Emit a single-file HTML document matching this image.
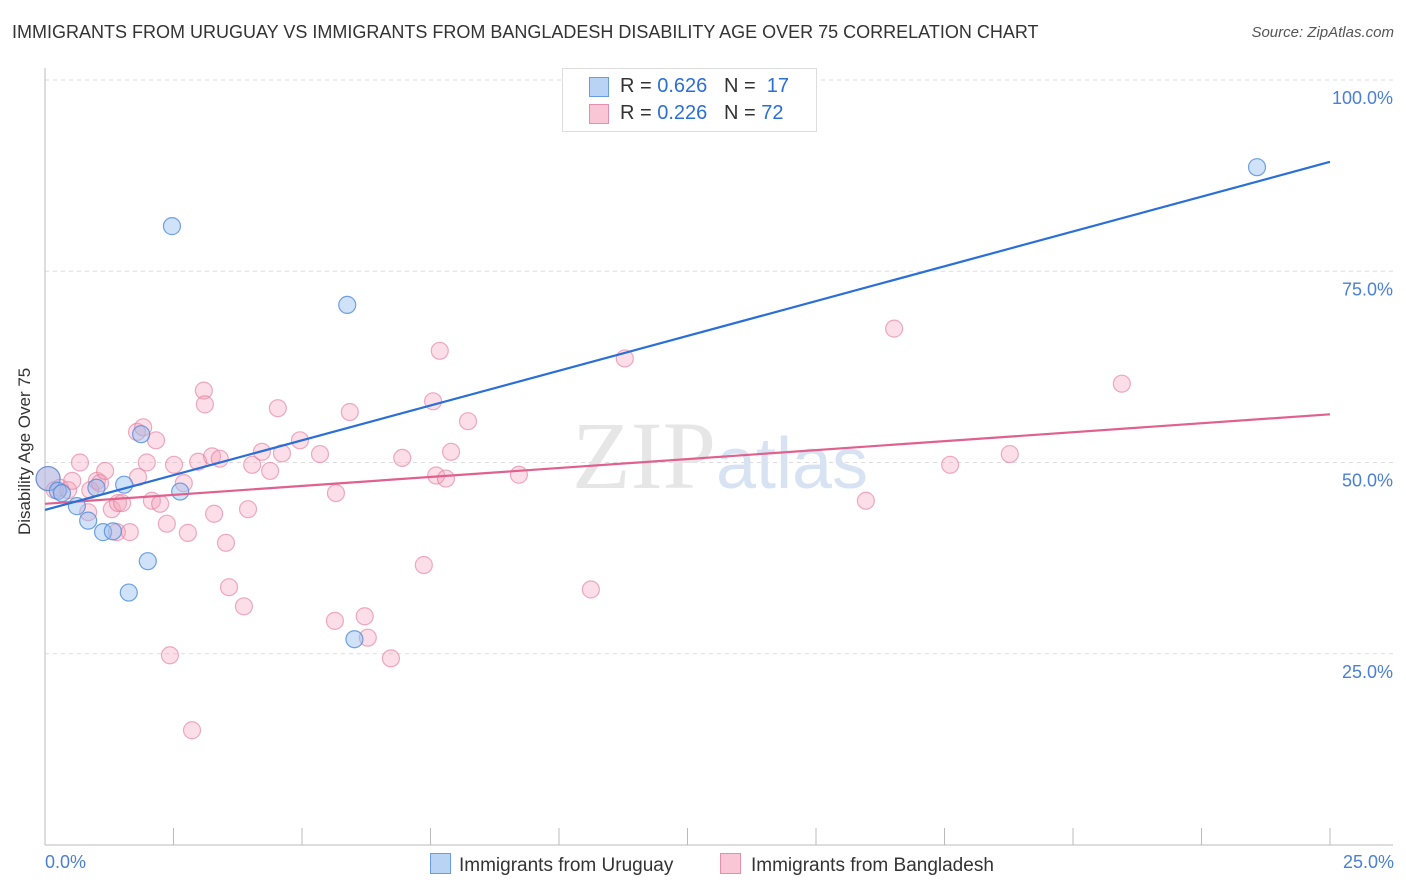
<!DOCTYPE html>
<html><head><meta charset="utf-8"><style>
body{margin:0;background:#fff;font-family:"Liberation Sans",sans-serif}
#wrap{position:relative;width:1406px;height:892px;overflow:hidden}
.t{position:absolute;white-space:nowrap}
</style></head><body>
<div id="wrap">
<div class="t" style="left:12px;top:22px;font-size:18px;color:#333">IMMIGRANTS FROM URUGUAY VS IMMIGRANTS FROM BANGLADESH DISABILITY AGE OVER 75 CORRELATION CHART</div>
<div class="t" style="right:12px;top:24px;font-size:15px;color:#555;font-style:italic">Source: ZipAtlas.com</div>
<svg id="svg" width="1406" height="892" style="position:absolute;left:0;top:0"></svg>
</div>
<script>
const uruX=[0.06,0.25,0.62,0.84,1.0,1.13,1.32,1.54,1.63,1.87,2.00,2.47,2.63,5.88,6.02,23.58,0.33];
const uruY=[47.9,46.3,44.3,42.4,46.7,40.9,41.0,47.1,33.0,53.7,37.1,80.9,46.2,70.6,26.9,88.6,46.0];
const banX=[0.06,0.19,0.29,0.45,0.53,0.68,0.84,0.88,1.01,1.07,1.17,1.30,1.42,1.50,1.40,1.65,1.79,1.91,1.81,1.98,2.08,2.16,2.24,2.37,2.51,2.43,2.70,2.78,2.86,2.98,3.09,3.11,3.25,3.29,3.40,3.52,3.58,3.87,3.95,4.03,4.22,4.38,4.53,4.61,4.96,5.35,5.66,5.64,5.93,6.22,6.28,6.73,6.95,7.37,7.55,7.61,7.68,7.80,7.90,8.23,9.22,10.62,11.28,15.97,16.52,17.61,18.77,20.95];
const banY=[47.9,46.4,46.7,46.4,47.6,50.0,43.5,46.4,47.6,47.3,48.9,43.9,44.7,44.7,40.9,40.9,54.0,54.6,48.1,50.0,45.0,52.9,44.6,42.0,49.7,24.8,47.3,40.8,15.0,50.1,59.4,57.6,50.8,43.3,50.5,39.5,33.7,31.2,43.9,49.7,51.4,48.9,57.1,51.2,52.9,51.1,46.0,29.3,56.6,29.9,27.1,24.4,50.6,36.6,58.0,48.3,64.6,47.9,51.4,55.4,48.4,33.4,63.6,45.0,67.5,49.7,51.1,60.3];
const uruTrend=[43.8,89.3];
const banTrend=[44.6,56.3];
const yTicks=[100,75,50,25];
const yTickLabels=["100.0%","75.0%","50.0%","25.0%"];

const X0=45,X1=1330,Y0=845,Y100=80;
const sx=v=>X0+(X1-X0)*v/25, sy=v=>Y0-(Y0-Y100)*v/100;
const svg=document.getElementById('svg');const NS="http://www.w3.org/2000/svg";
function mk(tag,attrs,parent){const e=document.createElementNS(NS,tag);for(const k in attrs)e.setAttribute(k,attrs[k]);(parent||svg).appendChild(e);return e;}
// grid
yTicks.forEach((v,i)=>{
 const g=mk('line',{x1:X0,x2:1393,y1:sy(v),y2:sy(v),stroke:'#ddd','stroke-dasharray':'4,4'});
 
 
 const t=mk('text',{x:1393,y:sy(v)+24,'text-anchor':'end','font-size':18,fill:'#4a7fd6'});
 t.textContent=yTickLabels[i];
 
 
});
// watermark
const wm=mk('text',{x:720,y:488,'text-anchor':'middle','font-size':96,fill:'#e6e6e6','font-family':'Liberation Serif'});


wm.innerHTML='ZIP<tspan fill="#d7e3f3" font-family="Liberation Sans" font-size="72">atlas</tspan>';
// axes
const ax=mk('line',{x1:X0,x2:1393,y1:Y0,y2:Y0,stroke:'#bbb'});


const ay=mk('line',{x1:X0,x2:X0,y1:68,y2:Y0,stroke:'#bbb'});


for(let i=0;i<=10;i++){const tk=mk('line',{x1:sx(i*2.5),x2:sx(i*2.5),y1:828,y2:Y0,stroke:'#bbb'});
 
 }
// points
function dots(xs,ys,fill,stroke,name){xs.forEach((x,i)=>{const r=(i==0&&x<0.1)?12:8.5;
 const c=mk('circle',{cx:sx(x),cy:sy(ys[i]),r:r,fill:fill,stroke:stroke,'stroke-width':1.2});
 
 });}
dots(banX,banY,'rgba(244,160,185,0.35)','rgba(228,120,155,0.6)','bangladesh-point');
dots(uruX,uruY,'rgba(150,190,240,0.45)','rgba(80,140,220,0.8)','uruguay-point');
const l1=mk('line',{x1:sx(0),x2:sx(25),y1:sy(banTrend[0]),y2:sy(banTrend[1]),stroke:'#e0608e','stroke-width':2.2});


const l2=mk('line',{x1:sx(0),x2:sx(25),y1:sy(uruTrend[0]),y2:sy(uruTrend[1]),stroke:'#2a6fd6','stroke-width':2.2});


</script>
<div class="t" style="left:-55px;top:445px;font-size:17px;color:#333;transform:rotate(-90deg);width:160px;text-align:center">Disability Age Over 75</div>
<div class="t" style="left:45px;top:852px;font-size:18px;color:#4a7fd6">0.0%</div>
<div class="t" style="right:12px;top:852px;font-size:18px;color:#4a7fd6">25.0%</div>
<div style="position:absolute;left:562px;top:68px;width:253px;height:62px;border:1px solid #ddd;background:#fff;font-size:20px;color:#333">
 <div style="position:absolute;left:26px;top:8px;width:18px;height:18px;background:#b9d3f5;border:1px solid #6a9de0"></div>
 <div class="t" style="left:57px;top:6px">R = <span style="color:#2a6fd6">0.626</span>&nbsp;&nbsp;&nbsp;N = &nbsp;<span style="color:#2a6fd6">17</span></div>
 <div style="position:absolute;left:26px;top:35px;width:18px;height:18px;background:#f8c6d5;border:1px solid #e490ad"></div>
 <div class="t" style="left:57px;top:33px">R = <span style="color:#2a6fd6">0.226</span>&nbsp;&nbsp;&nbsp;N = <span style="color:#2a6fd6">72</span></div>
</div>
<div style="position:absolute;left:430px;top:853px;font-size:19px;color:#333">
 <span style="display:inline-block;width:19px;height:19px;background:#b9d3f5;border:1px solid #6a9de0;vertical-align:-3px;margin-right:8px"></span>Immigrants from Uruguay</div>
<div style="position:absolute;left:720px;top:853px;font-size:19px;color:#333">
 <span style="display:inline-block;width:19px;height:19px;background:#f8c6d5;border:1px solid #e490ad;vertical-align:-3px;margin-right:10px"></span>Immigrants from Bangladesh</div>
</body></html>
